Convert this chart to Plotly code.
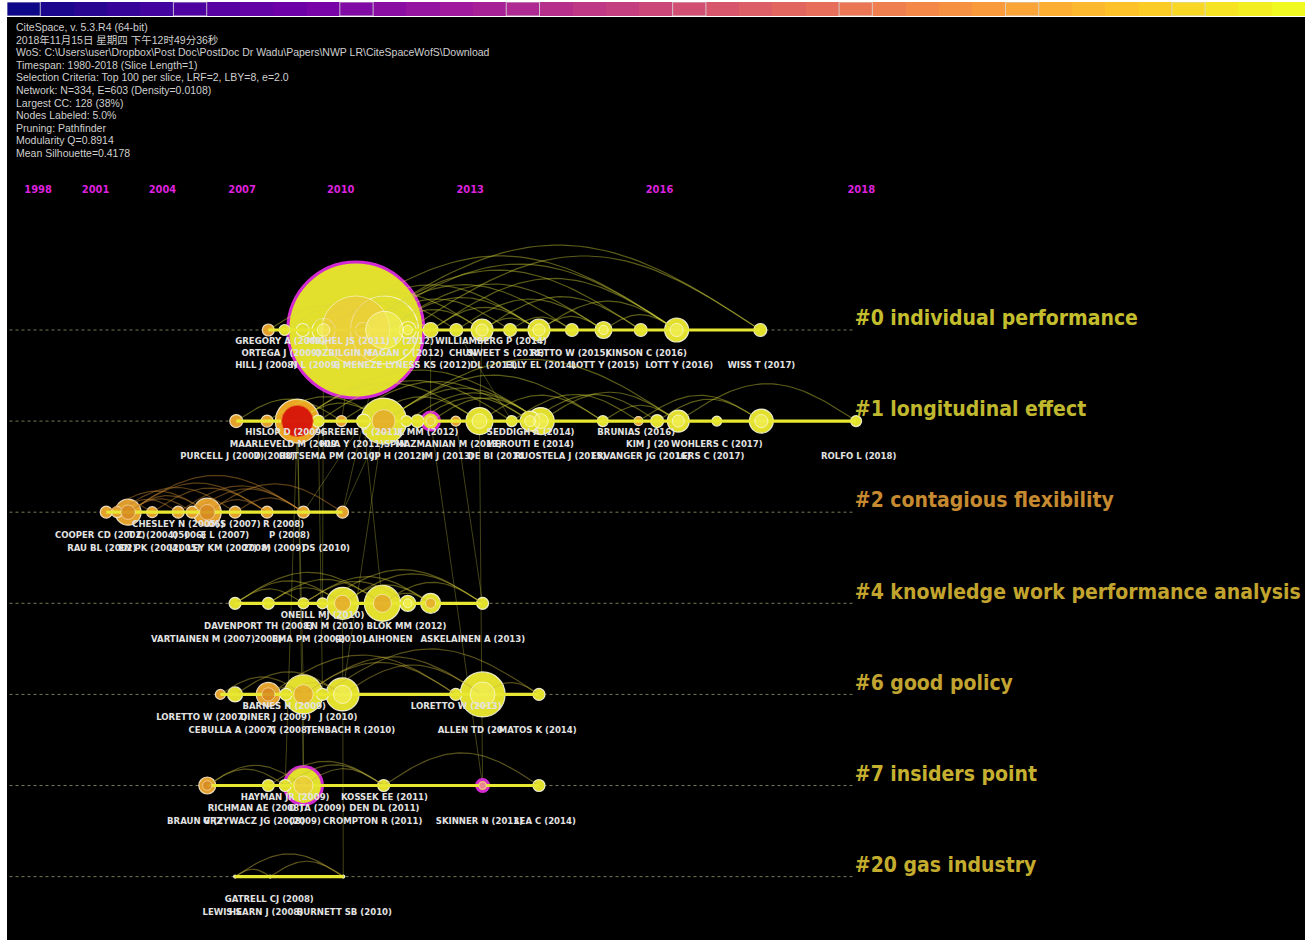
import numpy as np
import plotly.graph_objects as go

# ---------------------------------------------------------------- data
tick_years = [1998, 2001, 2004, 2007, 2010, 2013, 2016, 2018]
bar_years = list(range(1980, 2019))
bar_marked_years = bar_years[::5]

info_lines = [
    "CiteSpace, v. 5.3.R4 (64-bit)",
    "2018年11月15日 星期四 下午12时49分36秒",
    "WoS: C:\\Users\\user\\Dropbox\\Post Doc\\PostDoc Dr Wadu\\Papers\\NWP LR\\CiteSpaceWofS\\Download",
    "Timespan: 1980-2018 (Slice Length=1)",
    "Selection Criteria: Top 100 per slice, LRF=2, LBY=8, e=2.0",
    "Network: N=334, E=603 (Density=0.0108)",
    "Largest CC: 128 (38%)",
    "Nodes Labeled: 5.0%",
    "Pruning: Pathfinder",
    "Modularity Q=0.8914",
    "Mean Silhouette=0.4178",
]

cluster_names = ["#0 individual performance", "#1 longitudinal effect",
                 "#2 contagious flexibility", "#4 knowledge work performance analysis",
                 "#6 good policy", "#7 insiders point", "#20 gas industry"]

# cluster #0
c0_t = [2007.87, 2008.38, 2008.93, 2009.53, 2010.4, 2010.58, 2011.12, 2011.67, 2012.18,
        2012.72, 2013.23, 2013.75, 2014.25, 2014.78, 2015.25, 2015.76, 2016.21, 2017.12]
c0_size = [12, 11, 13, 23, 136, 15, 68, 17, 15, 13, 22, 13, 22, 13, 17, 13, 24, 13]
c0_kind = ['o', 'y', 'y', 'y', 'm', 'y', 'y', 'y', 'yo', 'y', 'y', 'y', 'y', 'yo', 'y', 'yo', 'y', 'y']
c0_edges = [(7, 17), (3, 16), (5, 16), (4, 15), (6, 14), (3, 12), (2, 10), (5, 11), (6, 12),
            (8, 16), (9, 14), (10, 15), (3, 9), (1, 8), (0, 6), (4, 13), (6, 10), (10, 12),
            (12, 14), (12, 16), (14, 16), (4, 8), (2, 7), (11, 13), (4, 17), (8, 12)]
c0_labels = [("GREGORY A (2009)", 2008.25, 1), ("MICHEL JS (2011)", 2010.2, 1),
             ("Y (2012)", 2011.8, 1), ("WILLIAMBERG P (2014)", 2013.4, 1),
             ("ORTEGA J (2009)", 2008.28, 2), ("OZBILGIN M", 2010.08, 2),
             ("FAGAN C (2012)", 2011.62, 2), ("CHUN", 2012.85, 2),
             ("SWEET S (2014)", 2013.67, 2), ("RETTO W (2015)", 2014.75, 2),
             ("KINSON C (2016)", 2015.83, 2),
             ("HILL J (2008)", 2007.8, 3), ("N L (2009)", 2009.3, 3),
             ("E MENEZE LYNESS KS (2012)", 2011.55, 3), ("DL (2013)", 2013.45, 3),
             ("ELLY EL (2014)", 2014.28, 3), ("LOTT Y (2015)", 2015.27, 3),
             ("LOTT Y (2016)", 2016.24, 3), ("WISS T (2017)", 2017.13, 3)]

# cluster #1
c1_t = [2006.8, 2007.83, 2008.77, 2009.38, 2010.02, 2010.6, 2011.1, 2011.64, 2011.89, 2012.18,
        2012.71, 2013.18, 2013.78, 2014.1, 2014.28, 2015.24, 2015.73, 2015.97, 2016.23,
        2016.67, 2017.13, 2017.96]
c1_size = [13, 12, 44, 12, 11, 14, 46, 11, 13, 18, 10, 27, 11, 20, 27, 11, 9, 13, 22, 10, 24, 11]
c1_kind = ['o', 'o', 'r', 'y', 'o', 'y', 'yo', 'y', 'y', 'm', 'o', 'y', 'y', 'y', 'y', 'y',
           'o', 'y', 'y', 'y', 'y', 'y']
c1_edges = [(2, 14), (2, 11), (3, 12), (4, 13), (6, 14), (6, 15), (5, 11), (7, 14), (9, 14),
            (11, 15), (13, 17), (14, 18), (12, 16), (0, 4), (1, 6), (2, 6), (8, 13), (15, 18),
            (16, 20), (17, 20), (18, 21), (6, 18)]
c1_labels = [("HISLOP D (2009)", 2008.4, 1), ("GREENE C (2011)", 2010.55, 1),
             ("K MM (2012)", 2012.12, 1), ("SEDDIGH A (2014)", 2014.11, 1),
             ("BRUNIAS (2016)", 2015.7, 1),
             ("MAARLEVELD M (2009", 2008.34, 2), ("HUA Y (2011)", 2010.3, 2),
             ("SPIN", 2011.38, 2), ("MAZMANIAN M (2013)", 2012.56, 2),
             ("MEROUTI E (2014)", 2014.1, 2), ("KIM J (20", 2015.85, 2),
             ("WOHLERS C (2017)", 2016.67, 2),
             ("PURCELL J (2007)", 2006.3, 3), ("D (2008)", 2008.06, 3),
             ("HUTSEMA PM (2010)", 2009.67, 3), ("JP H (2012)", 2011.45, 3),
             ("IM J (2013)", 2012.54, 3), ("DE BI (2014", 2013.49, 3),
             ("RUOSTELA J (2015)", 2014.6, 3), ("ERVANGER JG (2016)", 2015.76, 3),
             ("LERS C (2017)", 2016.6, 3), ("ROLFO L (2018)", 2017.98, 3)]

# cluster #2
c2_t = [2001.51, 2002.02, 2002.52, 2003.57, 2004.64, 2005.19, 2005.76, 2006.76, 2007.83,
        2008.95, 2010.05]
c2_size = [12, 11, 26, 11, 12, 12, 28, 12, 12, 12, 12]
c2_kind = ['o'] * 11
c2_edges = [(0, 6), (1, 7), (2, 8), (2, 6), (3, 8), (4, 9), (5, 9), (6, 10), (0, 3), (2, 5),
            (6, 8), (1, 4), (7, 9), (2, 9), (0, 2)]
c2_labels = [("CHESLEY N (2005)", 2004.55, 1), ("06)", 2006.1, 1), ("S (2007)", 2006.94, 1),
             ("R (2008)", 2008.35, 1),
             ("COOPER CD (2002)", 2001.22, 2), ("T C (2004)", 2003.6, 2), ("05)", 2004.72, 2),
             ("006)", 2005.3, 2), ("E L (2007)", 2006.4, 2), ("P (2008)", 2008.53, 2),
             ("RAU BL (2002)", 2001.3, 3), ("EN PK (2004)", 2003.49, 3), ("(2005)", 2004.9, 3),
             ("LEY KM (2007)", 2006.3, 3), ("2008)", 2007.5, 3), ("M (2009)", 2008.35, 3),
             ("DS (2010)", 2009.6, 3)]

# cluster #4
c4_t = [2006.76, 2007.87, 2008.95, 2009.5, 2010.05, 2011.07, 2011.67, 2012.18, 2013.24]
c4_size = [12, 12, 11, 11, 32, 36, 16, 20, 12]
c4_kind = ['y', 'y', 'y', 'y', 'yo', 'yo', 'y', 'yo', 'y']
c4_edges = [(0, 4), (1, 5), (0, 5), (2, 7), (4, 8), (3, 8), (5, 8), (1, 4), (4, 7), (0, 2),
            (2, 6), (5, 7)]
c4_labels = [("ONEILL MJ (2010)", 2009.5, 1),
             ("DAVENPORT TH (2008)", 2007.55, 2), ("EN M (2010)", 2009.83, 2),
             ("BLOK MM (2012)", 2011.64, 2),
             ("VARTIAINEN M (2007)", 2005.6, 3), ("2008)", 2007.87, 3),
             ("EMA PM (2009)", 2009.1, 3), ("(2010)", 2010.26, 3), ("LAIHONEN", 2011.2, 3),
             ("ASKELAINEN A (2013)", 2013.05, 3)]

# cluster #6
c6_t = [2006.24, 2006.76, 2007.87, 2008.42, 2008.95, 2009.5, 2010.05, 2012.71, 2013.24, 2014.25]
c6_size = [10, 15, 24, 12, 39, 12, 33, 12, 45, 12]
c6_kind = ['o', 'y', 'o', 'y', 'yo', 'y', 'y', 'y', 'y', 'y']
c6_edges = [(1, 6), (2, 7), (4, 8), (6, 8), (8, 9), (3, 6), (0, 4), (2, 4), (5, 9), (4, 7)]
c6_labels = [("BARNES H (2009)", 2008.37, 1), ("LORETTO W (2013)", 2012.72, 1),
             ("LORETTO W (2007)", 2005.55, 2), ("DINER J (2009)", 2008.1, 2),
             ("J (2010)", 2009.94, 2),
             ("CEBULLA A (2007)", 2006.66, 3), ("C (2008)", 2008.56, 3),
             ("TENBACH R (2010)", 2010.26, 3), ("ALLEN TD (20", 2013.0, 3),
             ("MATOS K (2014)", 2014.23, 3)]

# cluster #7
c7_t = [2005.76, 2007.87, 2008.4, 2008.95, 2011.1, 2013.24, 2014.25]
c7_size = [17, 12, 12, 38, 12, 12, 12]
c7_kind = ['o', 'y', 'y', 'm', 'y', 'mp', 'y']
c7_edges = [(0, 3), (1, 4), (3, 4), (4, 6), (2, 4), (0, 2)]
c7_labels = [("HAYMAN JR (2009)", 2008.4, 1), ("KOSSEK EE (2011)", 2011.12, 1),
             ("RICHMAN AE (2008)", 2007.45, 2), ("D TA (2009)", 2009.35, 2),
             ("DEN DL (2011)", 2011.12, 2),
             ("BRAUN V (2", 2005.3, 3), ("GRZYWACZ JG (2008)", 2007.4, 3), ("(2009)", 2009.0, 3),
             ("CROMPTON R (2011)", 2010.83, 3), ("SKINNER N (2013)", 2013.18, 3),
             ("LEA C (2014)", 2014.35, 3)]

# cluster #20
c20_t = [2006.76, 2007.93, 2010.07]
c20_size = [3, 3, 3]
c20_kind = ['y', 'y', 'y']
c20_edges = [(0, 2), (0, 1), (1, 2)]
c20_labels = [("GATRELL CJ (2008)", 2007.9, 2), ("LEWIS S", 2006.3, 3),
              ("HEARN J (2008)", 2007.8, 3), ("BURNETT SB (2010)", 2010.1, 3)]

# links between clusters: (cluster a, node a, cluster b, node b)
cross_links = [(1, 2, 5, 3), (1, 3, 4, 5), (0, 4, 1, 4), (0, 3, 3, 3), (1, 9, 5, 5),
               (1, 10, 3, 8), (0, 8, 1, 9), (2, 10, 1, 6), (2, 9, 1, 5), (1, 6, 4, 6),
               (3, 4, 6, 2), (4, 4, 5, 3), (0, 10, 1, 11), (1, 2, 4, 4), (0, 6, 2, 10),
               (1, 11, 5, 5), (1, 2, 5, 2), (0, 9, 1, 12), (1, 5, 3, 5)]

clusters = [
    (c0_t, c0_size, c0_kind, c0_edges, c0_labels),
    (c1_t, c1_size, c1_kind, c1_edges, c1_labels),
    (c2_t, c2_size, c2_kind, c2_edges, c2_labels),
    (c4_t, c4_size, c4_kind, c4_edges, c4_labels),
    (c6_t, c6_size, c6_kind, c6_edges, c6_labels),
    (c7_t, c7_size, c7_kind, c7_edges, c7_labels),
    (c20_t, c20_size, c20_kind, c20_edges, c20_labels),
]

# ---------------------------------------------------------------- styling / geometry
W, H = 1311, 947
K = 2021.2                      # origin of CiteSpace's compressed time scale
T_LEFT, T_RIGHT = 1996.2, 2020.1
PX_L, PX_R, PX_T, PX_B = 7, 1305, 17, 940
ROW0_PX, ROW_PX = 330, 91.1
U_L, U_R = np.log10(K - T_LEFT), np.log10(K - T_RIGHT)
PX_PER_DEC = (PX_R - PX_L) / (U_L - U_R)
ARC_RATIO = 0.21
LABEL_OFF = {1: 12, 2: 23.5, 3: 36}

NARROW = "Liberation Sans Narrow, Arial Narrow, DejaVu Sans Condensed, sans-serif"
name_colors = ["#c4be2e", "#c0b82e", "#c68a30", "#c2a42e", "#c2a430", "#c6b030", "#c4ac2e"]
arc_colors = ["rgba(218,218,60,0.42)", "rgba(218,218,60,0.42)", "rgba(205,140,50,0.45)",
              "rgba(210,200,55,0.42)", "rgba(205,185,60,0.42)", "rgba(190,180,60,0.45)",
              "rgba(190,170,60,0.5)"]
STYLE = {
    'y':  dict(fill='rgb(226,224,44)', edge='rgba(245,245,220,0.9)', ew=1.2,
               inner='rgba(245,242,100,0.55)', iedge='rgba(255,255,255,0.6)', r=0.55),
    'o':  dict(fill='rgb(228,162,44)', edge='rgba(245,232,205,0.9)', ew=1.2,
               inner='rgba(212,135,32,0.8)', iedge='rgba(255,255,255,0.45)', r=0.55),
    'yo': dict(fill='rgb(226,224,44)', edge='rgba(245,245,220,0.9)', ew=1.2,
               inner='rgba(230,160,42,0.7)', iedge='rgba(255,255,255,0.5)', r=0.5),
    'r':  dict(fill='rgb(236,165,34)', edge='rgba(250,240,220,0.9)', ew=1.2,
               inner='rgba(215,18,10,0.95)', iedge='rgba(232,125,30,0.9)', r=0.72),
    'm':  dict(fill='rgb(226,224,44)', edge='#d22ad2', ew=3,
               inner='rgba(238,196,66,0.55)', iedge='rgba(255,255,255,0.5)', r=0.5),
    'mp': dict(fill='rgb(232,192,60)', edge='#d22ad2', ew=3,
               inner='rgba(236,120,160,0.85)', iedge='rgba(255,255,255,0.3)', r=0.6),
}


def xpos(t):
    return K - np.asarray(t, dtype=float)


def arc(ta, tb, yrow):
    ua, ub = np.log10(K - ta), np.log10(K - tb)
    s = np.linspace(0, 1, 48)
    u = ua + (ub - ua) * s
    h = ARC_RATIO * abs(ub - ua) * PX_PER_DEC / ROW_PX
    return list(10 ** u), list(yrow + h * np.sin(np.pi * s))


fig = go.Figure()

# colour bar of time slices
fig.add_trace(go.Heatmap(z=[list(range(len(bar_years)))], x=bar_years, y=[0],
                         colorscale="Plasma", showscale=False, xaxis="x2", yaxis="y2",
                         hoverinfo="skip"))
for yr in bar_marked_years:
    fig.add_shape(type="rect", xref="x2", yref="y2", x0=yr - 0.5, x1=yr + 0.5, y0=-0.5, y1=0.5,
                  line=dict(color="rgba(215,215,215,0.85)", width=1))

# dashed guide lines
for ci in range(len(clusters)):
    fig.add_trace(go.Scatter(x=xpos([1996.35, 2017.95]), y=[-ci, -ci], mode="lines",
                             line=dict(color="rgba(150,150,100,0.8)", width=1, dash="dot"),
                             hoverinfo="skip"))

# links between clusters
cx, cy = [], []
for a, na, b, nb in cross_links:
    cx += [K - clusters[a][0][na], K - clusters[b][0][nb], None]
    cy += [-a, -b, None]
fig.add_trace(go.Scatter(x=cx, y=cy, mode="lines",
                         line=dict(color="rgba(200,200,70,0.33)", width=1), hoverinfo="skip"))

for ci, (t, size, kind, edges, labels) in enumerate(clusters):
    yrow = -ci
    order = np.argsort(size)[::-1]
    ts = [t[i] for i in order]
    ss = [size[i] for i in order]
    ks = [kind[i] for i in order]
    # outer nodes
    fig.add_trace(go.Scatter(
        x=xpos(ts), y=[yrow] * len(ts), mode="markers", hoverinfo="skip",
        marker=dict(size=ss, color=[STYLE[k]['fill'] for k in ks], opacity=1,
                    line=dict(color=[STYLE[k]['edge'] for k in ks],
                              width=[STYLE[k]['ew'] for k in ks]))))
    # citation arcs
    ax, ay = [], []
    for i, j in edges:
        xs, ys = arc(t[i], t[j], yrow)
        ax += xs + [None]
        ay += ys + [None]
    fig.add_trace(go.Scatter(x=ax, y=ay, mode="lines", hoverinfo="skip",
                             line=dict(color=arc_colors[ci], width=1.2)))
    # cluster time line
    fig.add_trace(go.Scatter(x=xpos([min(t), max(t)]), y=[yrow, yrow], mode="lines",
                             hoverinfo="skip", line=dict(color="#e8e832", width=3.2)))
    # inner rings
    sel = [i for i in order if size[i] >= 16 or kind[i] in ('r', 'mp')]
    if sel:
        fig.add_trace(go.Scatter(
            x=xpos([t[i] for i in sel]), y=[yrow] * len(sel), mode="markers", hoverinfo="skip",
            marker=dict(size=[size[i] * STYLE[kind[i]]['r'] for i in sel],
                        color=[STYLE[kind[i]]['inner'] for i in sel], opacity=1,
                        line=dict(color=[STYLE[kind[i]]['iedge'] for i in sel], width=1))))
    # node labels
    fig.add_trace(go.Scatter(
        x=xpos([l[1] for l in labels]),
        y=[yrow - LABEL_OFF[l[2]] / ROW_PX for l in labels],
        text=[l[0] for l in labels], mode="text", textposition="middle center", hoverinfo="skip",
        textfont=dict(family=NARROW, size=9.5, color="#e2e2e2", weight="bold")))
    # cluster name
    fig.add_trace(go.Scatter(
        x=xpos([2017.95]), y=[yrow + 10 / ROW_PX], text=[cluster_names[ci]], mode="text",
        textposition="middle right", hoverinfo="skip",
        textfont=dict(family=NARROW, size=21, color=name_colors[ci], weight="bold")))

# year labels
fig.add_trace(go.Scatter(x=xpos(tick_years), y=[(ROW0_PX - 190) / ROW_PX] * len(tick_years),
                         text=[str(y) for y in tick_years], mode="text", hoverinfo="skip",
                         textposition="middle center",
                         textfont=dict(family=NARROW, size=11, color="#dd22dd", weight="bold")))

# info block
for i, line in enumerate(info_lines):
    fig.add_annotation(x=14 / W, y=1 - (27 + 12.6 * i) / H, xref="paper", yref="paper",
                       text=line, showarrow=False, xanchor="left", yanchor="middle",
                       font=dict(family="Liberation Sans, Arial, Noto Sans CJK SC, sans-serif",
                                 size=10.5, color="#cfcfcf"))

fig.update_layout(
    width=W, height=H, margin=dict(l=0, r=0, t=0, b=0),
    paper_bgcolor="white", plot_bgcolor="black", showlegend=False, hovermode=False,
    xaxis=dict(type="log", range=[U_L, U_R], domain=[PX_L / W, PX_R / W],
               visible=False, showgrid=False, zeroline=False),
    yaxis=dict(range=[-(PX_B - ROW0_PX) / ROW_PX, (ROW0_PX - PX_T) / ROW_PX],
               domain=[(H - PX_B) / H, (H - PX_T) / H],
               visible=False, showgrid=False, zeroline=False),
    xaxis2=dict(domain=[PX_L / W, PX_R / W], range=[bar_years[0] - 0.5, bar_years[-1] + 0.5],
                visible=False, anchor="y2"),
    yaxis2=dict(domain=[(H - 16) / H, (H - 2) / H], range=[-0.5, 0.5], visible=False,
                anchor="x2"),
)

fig.write_html("out.html")
